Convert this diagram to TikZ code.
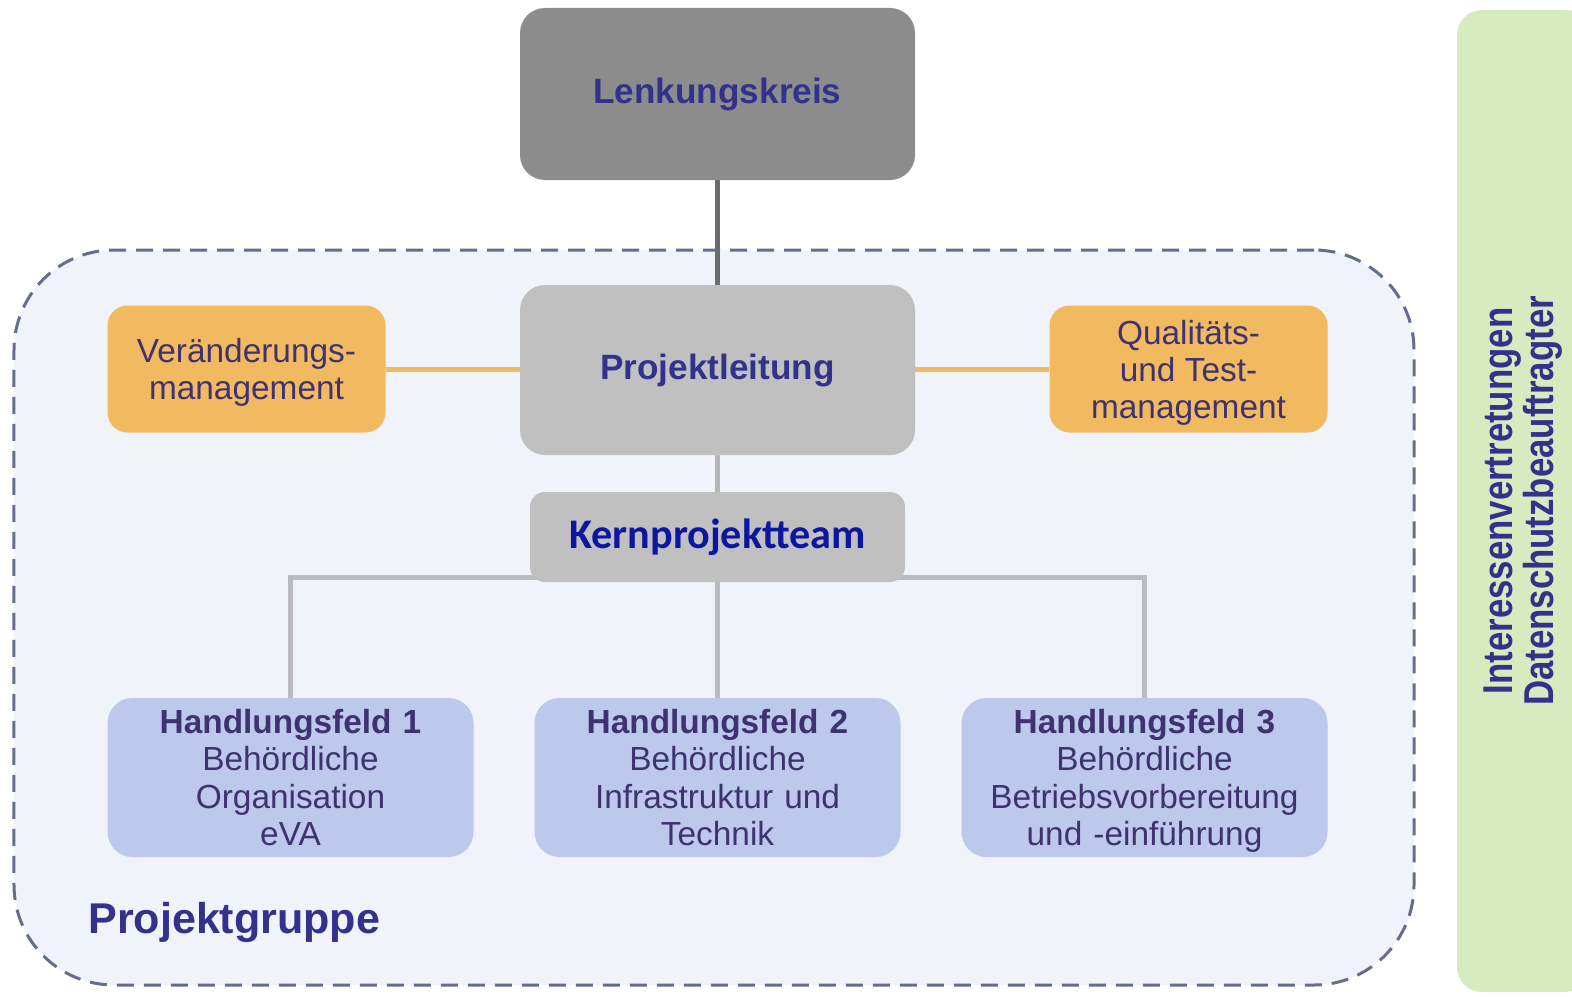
\documentclass[tikz,border=0pt]{standalone}
\usepackage{fontspec}
\setmainfont{Liberation Sans}
\newfontfamily\kernfont{Carlito}
\usepackage{tikz}
\usetikzlibrary{positioning,backgrounds}
\definecolor{txtblue}{RGB}{50,50,140}
\definecolor{txtlila}{RGB}{62,50,112}
\definecolor{kernblue}{RGB}{12,22,160}
\definecolor{lkgray}{RGB}{140,140,140}
\definecolor{plgray}{RGB}{192,192,192}
\definecolor{stabgold}{RGB}{242,186,96}
\definecolor{feldblue}{RGB}{188,200,236}
\definecolor{gruppefill}{RGB}{240,243,250}
\definecolor{gruppedash}{RGB}{100,110,140}
\definecolor{gruen}{RGB}{214,235,192}
\newcommand{\lkfont}{\fontsize{20}{22}\selectfont\bfseries}
\newcommand{\stabfont}{\fontsize{19}{21}\selectfont}
\newcommand{\feldfont}{\fontsize{19}{21.3}\selectfont}
\tikzstyle{chef} = [rectangle, rounded corners=0.5cm, fill=lkgray, minimum width=7.9cm, minimum height=3.44cm, text centered, font=\lkfont, text=txtblue]
\tikzstyle{leitung} = [rectangle, rounded corners=0.5cm, fill=plgray, minimum width=7.9cm, minimum height=3.4cm, text centered, font=\lkfont, text=txtblue]
\tikzstyle{arrow} = [line width=0.1cm]
\tikzset{
 stab/.style
  = {rectangle, rounded corners=0.4cm, fill=stabgold, minimum width=5.56cm, minimum height=2.54cm,
     align=center, font=\stabfont, text=txtlila, inner sep=1pt},
 kernbox/.style
  = {rectangle, rounded corners=0.3cm, fill=plgray, minimum width=7.5cm, minimum height=1.8cm,
     text centered, font=\kernfont\fontsize{24}{26}\selectfont\bfseries, text=kernblue},
 feld/.style
  = {rectangle, rounded corners=0.5cm, fill=feldblue, minimum width=7.32cm, minimum height=3.18cm,
     text width=7cm, align=center, font=\feldfont, text=txtlila, inner sep=2pt},
 gruppe/.style
  = {rectangle, rounded corners=2cm, draw=gruppedash, fill=gruppefill, line width=0.06cm,
     dash pattern=on 0.34cm off 0.2cm, minimum width=28cm, minimum height=14.7cm},
 extern/.style
  = {rectangle, rounded corners=0.5cm, fill=gruen, minimum width=2.66cm, minimum height=19.64cm,
     text=txtblue, font=\fontsize{19.8}{17}\selectfont\bfseries},
 l/.style
  = {draw, line width=0.1cm},
}

\begin{document}
\begin{tikzpicture}[node distance=5.52cm]
\useasboundingbox (0,0) rectangle (31.44,-19.92);
\node (lenk) [chef] at (14.35,-1.88) {Lenkungskreis};
\node (pl) [leitung, below of=lenk] {Projektleitung};
\node (kern) [kernbox, below of=pl, node distance=3.34cm] {Kernprojektteam};
\node (vm) [stab, left of=pl, node distance=9.42cm, yshift=0.02cm] {Veränderungs-\\\smash{management}};
\node (qt) [stab, right of=pl, node distance=9.42cm, yshift=0.02cm] {Qualitäts-\\und Test-\\\smash{management}};
\node (hf2) [feld, below of=kern, node distance=4.81cm] {\textbf{Handlungsfeld 2}\\Behördliche\\Infrastruktur und\\Technik};
\node (hf1) [feld, left of=hf2, node distance=8.54cm] {\textbf{Handlungsfeld 1}\\Behördliche\\Organisation\\eVA};
\node (hf3) [feld, right of=hf2, node distance=8.54cm] {\textbf{Handlungsfeld 3}\\Behördliche\\Betriebsvorbereitung\\\smash{und -einführung}};
\node (extern) [extern] at (30.47,-10.02) {\rotatebox{90}{\scalebox{1}[1.2]{\begin{tabular}{@{}c@{}}Interessenvertretungen\\Datenschutzbeauftragter\end{tabular}}}};
\coordinate (bar) at (14.35,-11.54);
\begin{scope}[on background layer]
\node (gruppe) [gruppe] at (14.28,-12.35) {};
\draw [l, color={rgb,255:red,108;green,108;blue,108}] (lenk.south) -- (pl.north);
\draw [l, color=plgray!95!black] (pl.south) -- (kern.north);
\draw [l, color=stabgold] (vm.east) -- (vm.east -| pl.west);
\draw [l, color=stabgold] (qt.west) -- (qt.west -| pl.east);
\draw [l, color={rgb,255:red,186;green,186;blue,192}] (hf1.north) |- (bar) -| (hf3.north);
\draw [l, color={rgb,255:red,186;green,186;blue,192}] (kern) -- (hf2.north);
\end{scope}
\node (pgtitel) [anchor=west, text=txtblue, font=\fontsize{24.5}{26}\selectfont\bfseries, inner sep=0pt] at (1.76,-18.44) {Projektgruppe};
\end{tikzpicture}
\end{document}
